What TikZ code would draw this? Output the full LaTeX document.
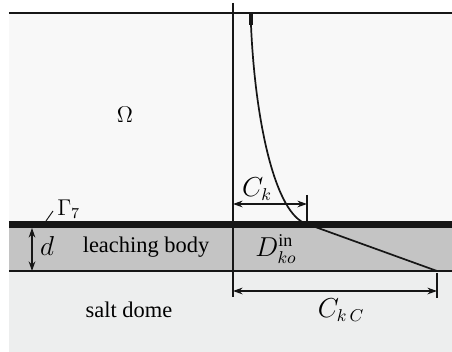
\documentclass[tikz,border=0pt]{standalone}
\usepackage{fontspec}
\setmainfont{Liberation Serif}
\usetikzlibrary{positioning,arrows.meta,calc}
\definecolor{OmegaBg}{HTML}{F8F8F8}
\definecolor{LeachBg}{HTML}{C4C4C4}
\definecolor{SaltBg}{HTML}{EDEEEE}
\definecolor{InkBlack}{HTML}{161616}

\begin{document}
\begin{tikzpicture}[x=0.0185cm, y=-0.0185cm,
    boundary/.style={draw=InkBlack, line width=1.5pt},
    axisline/.style={draw=InkBlack, line width=0.9pt},
    dimarrow/.style={draw=InkBlack, line width=0.8pt,
                     {Stealth[length=5pt,width=3.5pt]}-{Stealth[length=5pt,width=3.5pt]}},
    label/.style={font=\fontsize{11.8}{13}\selectfont, inner sep=1pt},
    mathlabel/.style={font=\fontsize{13.5}{15}\selectfont, inner sep=1pt}]
  \useasboundingbox (0,0) rectangle (452,352);
  % regions
  \fill[OmegaBg] (9,13) rectangle (452,221);
  \fill[LeachBg] (9,221) rectangle (452,271);
  \fill[SaltBg] (9,271) rectangle (452,352);
  % key points
  \coordinate (topL) at (9,13);
  \coordinate (topR) at (452,13);
  \coordinate (gamL) at (9,224.5);
  \coordinate (gamR) at (452,224.5);
  \coordinate (botL) at (9,271);
  \coordinate (botR) at (452,271);
  \coordinate (axisTop) at (233,3);
  \coordinate (axisBot) at (233,297);
  \coordinate (curveTop) at (251,13);
  \coordinate (curveKnee) at (251,25);
  \coordinate (curveEnd) at (307,224);
  \coordinate (slopeEnd) at (437,271);
  % boundaries
  \draw[boundary] (topL) -- (topR);
  \draw[draw=InkBlack, line width=3.6pt] (gamL) -- (gamR);
  \draw[boundary, line width=1.4pt] (botL) -- (botR);
  \draw[axisline] (axisTop) -- (axisBot);
  % concentration profile
  \draw[InkBlack, line width=1.6pt] (curveTop) -- (curveKnee);
  \draw[InkBlack, line width=0.9pt] (curveKnee)
        .. controls (255,120) and (275,215) .. (curveEnd);
  \draw[InkBlack, line width=0.9pt] (curveEnd) -- (slopeEnd);
  % dimension C_k
  \coordinate (ckTickTop) at (307,195);
  \coordinate (ckTickBot) at (307,224);
  \coordinate (ckL) at (233,204);
  \coordinate (ckR) at (307,204);
  \draw[axisline] (ckTickTop) -- (ckTickBot);
  \draw[dimarrow] (ckL) -- (ckR);
  % dimension C_kC
  \coordinate (ckcTickTop) at (437,273);
  \coordinate (ckcTickBot) at (437,298);
  \coordinate (ckcL) at (233,291);
  \coordinate (ckcR) at (437,291);
  \draw[axisline] (ckcTickTop) -- (ckcTickBot);
  \draw[dimarrow] (ckcL) -- (ckcR);
  % thickness d
  \coordinate (dTop) at (32,228);
  \coordinate (dBot) at (32,271);
  \draw[dimarrow] (dTop) -- (dBot);
  % labels
  \node[label] (omega) at (125,115) {$\Omega$};
  \node[label] (leach) at (146,247) {leaching body};
  \node[label] (salt) at (129,310) {salt dome};
  \node[mathlabel] (dlab) at (47,246) {$d$};
  \node[label, anchor=west] (gamma) at (55,209) {$\Gamma_7$};
  \coordinate (gamFoot) at (46,221);
  \coordinate (gamHead) at (53,211);
  \draw[InkBlack, line width=0.5pt] (gamFoot) -- (gamHead);
  \node[mathlabel] (cklab) at (257,189) {$C_k$};
  \node[mathlabel] (dinlab) at (276,249) {$D^{\mathrm{in}}_{ko}$};
  \node[mathlabel] (ckclab) at (341,310) {$C_{k\,C}$};
\end{tikzpicture}
\end{document}
